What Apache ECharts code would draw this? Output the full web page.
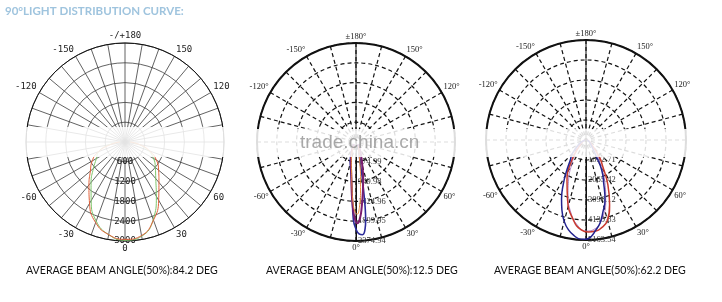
<!DOCTYPE html>
<html><head><meta charset="utf-8">
<script src="https://cdn.jsdelivr.net/npm/echarts@6/dist/echarts.min.js"></script>
<style>html,body{margin:0;padding:0;background:#fff}#c{width:722px;height:302px}</style>
</head><body><div id="c"></div>
<script>
// ---------- text ----------
const titleText = '90°LIGHT DISTRIBUTION CURVE:';
const captions = ['AVERAGE BEAM ANGLE(50%):84.2 DEG', 'AVERAGE BEAM ANGLE(50%):12.5 DEG', 'AVERAGE BEAM ANGLE(50%):62.2 DEG'];
const watermark = 'trade.china.cn';

// ---------- chart 1 (angles: 0 = down, + = right side) ----------
const c1Angles = [-90,-80,-70,-60,-50,-40,-30,-20,-10,0,10,20,30,40,50,60,70,80,90];
const c1Red    = [150,450,850,1150,1370,1700,2150,2600,2850,2950,2880,2520,2040,1600,1330,1100,800,450,150];
const c1Green  = [150,500,850,1000,1250,1600,2050,2550,2850,2980,2900,2500,1900,1450,1200,1000,750,420,150];
const c1Max = 3000;
const c1RadiusTicks = {600:'600',1200:'1200',1800:'1800',2400:'2400',3000:'3000'};
const c1AngleLabels = {0:'0',30:'30',60:'60',120:'120',150:'150',180:'-/+180',210:'-150',240:'-120',300:'-60',330:'-30'};

// ---------- chart 2 ----------
const c2BlueA   = [-40,-25,-17,-10,-6,-4,-2,0,2,4,6,7,8,9,10,12,15,25,40];
const c2BlueV   = [70,240,475,710,1000,1300,1850,2090,2210,2230,2090,1900,1570,1140,855,450,285,140,70];
const c2PurpleA = [-40,-25,-15,-8,-5,-3,-1,1,3,5,8,11,17,25,40];
const c2PurpleV = [70,240,475,810,1190,1520,1830,1950,1830,1570,1190,900,475,240,70];
const c2OrangeA = [-30,-15,-8,-5,-3,-1,1,3,5,7,10,15,30];
const c2OrangeV = [120,430,760,1090,1425,1660,1730,1570,1235,900,545,285,120];
const c2Max = 2374.94;
const c2RadiusTicks = ['474.99','949.98','1424.96','1899.95','2374.94'];

// ---------- chart 3 ----------
const c3BlueA = [-90,-60,-45,-38,-32,-27.5,-22.5,-19,-15,-11,-7,-3,0,3,6,9.5,13,17.6,22,27.6,32,40,60,90];
const c3BlueV = [50,400,1000,1320,1900,2520,3300,3820,4350,4730,4980,5130,5120,5000,4700,4360,3850,3250,2450,1750,1000,500,200,50];
const c3RedA  = [-90,-70,-50,-35,-25,-17,-9,-3,1.5,6,9,15,20,26,33,38,50,70,90];
const c3RedV  = [50,155,410,1290,2320,3250,4180,4650,4750,4725,4650,4290,3560,2580,1550,1140,410,155,50];
const c3PurpleA = [-90,-50,-38,-30,-24,-18,-12,-6,0,6,12,18,24,30,38,50,90];
const c3PurpleV = [50,400,900,1500,2200,3000,3800,4400,4700,4600,4100,3300,2400,1500,900,400,50];
const c3Max = 5163.54;
const c3RadiusTicks = ['1032.71','2065.42','3098.12','4130.83','5163.54'];

const degLabels = {0:'0°',30:'30°',60:'60°',120:'120°',150:'150°',180:'±180°',210:'-150°',240:'-120°',300:'-60°',330:'-30°'};

// ---------- build ----------
const toAx = a => (a < 0 ? a + 360 : a);
const pairs = (A, V) => A.map((a, i) => [V[i], toAx(a)]);

const polars = [
  {center: [125, 142], radius: 99},
  {center: [356, 142], radius: 99},
  {center: [586, 140], radius: 100}
];

const monoFont = 'DejaVu Sans Mono';
const serifFont = 'Liberation Serif';

function angleAxis(idx, interval, solid, labels, font, size) {
  return {
    polarIndex: idx, type: 'value', min: 0, max: 360, interval: interval,
    startAngle: 270, clockwise: false,
    axisLine: {show: true, lineStyle: {color: '#111', width: solid ? 1 : 2}},
    axisTick: {show: false},
    axisLabel: {margin: solid ? 3 : 2, color: '#222', fontFamily: font, fontSize: size,
      formatter: v => (labels[v] !== undefined ? labels[v] : '')},
    splitLine: {show: true, lineStyle: solid ? {color: '#3a3a3a', width: 0.8} : {color: '#111', width: 1.2, type: [4, 3]}}
  };
}

function radiusAxis(idx, max, ticksFn, solid, font, size) {
  return {
    polarIndex: idx, type: 'value', min: 0, max: max, interval: max / 5,
    axisLine: {show: !solid, lineStyle: {color: '#111', width: 1}},
    axisTick: {show: false},
    axisLabel: solid
      ? {margin: 0, align: 'center', verticalAlign: 'middle', color: '#222', fontFamily: font, fontSize: size, formatter: ticksFn}
      : {margin: 2, align: 'left', verticalAlign: 'middle', color: '#333', fontFamily: font, fontSize: size, formatter: ticksFn},
    splitLine: {show: true, lineStyle: solid ? {color: '#3a3a3a', width: 0.8} : {color: '#111', width: 1.2, type: [4, 3]}}
  };
}

function lineSeries(idx, data, color, width, opacity) {
  return {type: 'line', coordinateSystem: 'polar', polarIndex: idx, data: data,
    smooth: true, showSymbol: false, symbol: 'none', silent: true, z: 5,
    lineStyle: {color: color, width: width, opacity: opacity === undefined ? 1 : opacity}};
}

const c2Ticks = v => { const k = Math.round(v / (c2Max / 5)); return k > 0 ? c2RadiusTicks[k - 1] : ''; };
const c3Ticks = v => { const k = Math.round(v / (c3Max / 5)); return k > 0 ? c3RadiusTicks[k - 1] : ''; };
const c1Ticks = v => (c1RadiusTicks[Math.round(v)] || '');

const capStyle = {fontFamily: 'Lato', fontWeight: 'normal', fontSize: 10.6, color: '#111'};

const option = {
  backgroundColor: '#fff',
  animation: false,
  title: [
    {text: titleText, left: 5, top: 5, padding: 0,
      textStyle: {fontFamily: 'Lato', fontWeight: 'bold', fontSize: 11.5, color: '#9fc4de'}},
    {text: captions[0], left: 26, top: 265, padding: 0, textStyle: capStyle},
    {text: captions[1], left: 266, top: 265, padding: 0, textStyle: capStyle},
    {text: captions[2], left: 494, top: 265, padding: 0, textStyle: capStyle}
  ],
  polar: polars,
  angleAxis: [
    angleAxis(0, 10, true, c1AngleLabels, monoFont, 9),
    angleAxis(1, 15, false, degLabels, serifFont, 8.5),
    angleAxis(2, 15, false, degLabels, serifFont, 8.5)
  ],
  radiusAxis: [
    radiusAxis(0, c1Max, c1Ticks, true, monoFont, 9),
    radiusAxis(1, c2Max, c2Ticks, false, serifFont, 8.5),
    radiusAxis(2, c3Max, c3Ticks, false, serifFont, 8.5)
  ],
  series: [
    lineSeries(0, pairs(c1Angles, c1Green), '#7dc46a', 1),
    lineSeries(0, pairs(c1Angles, c1Red), '#e0603a', 1),
    {type: 'line', coordinateSystem: 'polar', polarIndex: 1, data: [[c2Max, 180], [c2Max, 0]], showSymbol: false, silent: true, z: 3, lineStyle: {color: '#111', width: 1}},
    {type: 'line', coordinateSystem: 'polar', polarIndex: 2, data: [[c3Max, 180], [c3Max, 0]], showSymbol: false, silent: true, z: 3, lineStyle: {color: '#111', width: 1}},
    lineSeries(1, pairs(c2BlueA, c2BlueV), '#2b2b9a', 1.6),
    lineSeries(1, pairs(c2PurpleA, c2PurpleV), '#7b1e6e', 2),
    lineSeries(1, pairs(c2OrangeA, c2OrangeV), '#e88a3a', 1),
    lineSeries(2, pairs(c3PurpleA, c3PurpleV), '#a36ab8', 1, 0.8),
    lineSeries(2, pairs(c3RedA, c3RedV), '#c8392e', 1.5),
    lineSeries(2, pairs(c3BlueA, c3BlueV), '#23238f', 1.5)
  ],
  graphic: [
    {type: 'rect', z: 100, shape: {x: 20, y: 127, width: 216, height: 30}, style: {fill: 'rgba(255,255,255,0.86)'}},
    {type: 'rect', z: 100, shape: {x: 252, y: 129, width: 210, height: 28}, style: {fill: 'rgba(255,255,255,0.86)'}},
    {type: 'rect', z: 100, shape: {x: 482, y: 129, width: 212, height: 28}, style: {fill: 'rgba(255,255,255,0.86)'}},
    {type: 'text', z: 101, x: 300, y: 143, style: {text: watermark, fill: 'rgba(140,140,140,0.75)', font: '19px "Liberation Sans"', align: 'left', verticalAlign: 'middle', textVerticalAlign: 'middle'}}
  ]
};

const chart = echarts.init(document.getElementById('c'), null, {renderer: 'canvas'});
chart.setOption(option);
</script>
</body></html>
